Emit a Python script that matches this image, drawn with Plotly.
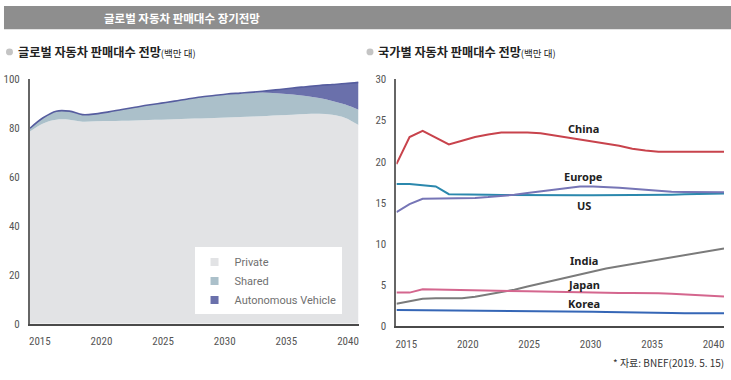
import plotly.graph_objects as go

# ---------------- data ----------------
YEARS = list(range(2015, 2041))

# global sales (million units), stacked
PRIVATE = [78.7, 82.0, 83.5, 83.5, 82.7, 82.9, 83.0, 83.1, 83.2, 83.4, 83.5, 83.7, 83.9,
           84.0, 84.2, 84.4, 84.6, 84.8, 85.0, 85.3, 85.5, 85.8, 85.9, 85.5, 84.2, 81.3]
SHARED = [1.3, 2.3, 3.5, 3.5, 2.9, 3.0, 3.7, 4.6, 5.4, 6.1, 6.8, 7.4, 8.1,
          8.8, 9.2, 9.6, 9.8, 9.8, 9.5, 8.9, 8.3, 7.4, 6.5, 5.7, 5.5, 6.3]
AUTONOMOUS = [0, 0, 0, 0, 0, 0, 0, 0, 0, 0, 0, 0, 0,
              0, 0, 0, 0, 0.2, 0.8, 1.7, 2.7, 3.8, 5.1, 6.7, 8.6, 11.2]

# sales by country (million units)
CHINA = [19.7, 23.0, 23.75, 22.9, 22.1, 22.55, 23.0, 23.3, 23.55, 23.55, 23.55, 23.45, 23.2,
         22.95, 22.7, 22.47, 22.25, 21.95, 21.58, 21.35, 21.22, 21.2, 21.2, 21.2, 21.2, 21.2]
US = [17.3, 17.3, 17.15, 17.0, 16.05, 16.0, 16.0, 15.98, 15.97, 15.95, 15.95, 15.95, 15.94,
      15.94, 15.93, 15.93, 15.93, 15.93, 15.94, 15.95, 15.97, 16.0, 16.04, 16.08, 16.12, 16.15]
EUROPE = [13.88, 14.85, 15.5, 15.52, 15.52, 15.52, 15.6, 15.7, 15.8, 15.98, 16.2, 16.4, 16.6,
          16.82, 17.0, 17.0, 16.95, 16.85, 16.72, 16.6, 16.45, 16.36, 16.33, 16.32, 16.3, 16.3]
INDIA = [2.74, 3.0, 3.35, 3.4, 3.4, 3.4, 3.6, 3.88, 4.15, 4.45, 4.84, 5.22, 5.6,
         5.97, 6.35, 6.73, 7.03, 7.3, 7.57, 7.84, 8.11, 8.38, 8.65, 8.92, 9.19, 9.46]
JAPAN = [4.1, 4.1, 4.5, 4.48, 4.46, 4.44, 4.42, 4.38, 4.34, 4.3, 4.26, 4.22, 4.18,
         4.14, 4.1, 4.08, 4.07, 4.06, 4.05, 4.05, 4.02, 3.95, 3.87, 3.79, 3.71, 3.64]
KOREA = [2.0, 1.99, 1.97, 1.95, 1.93, 1.92, 1.91, 1.9, 1.89, 1.88, 1.87, 1.86, 1.85,
         1.83, 1.81, 1.78, 1.74, 1.7, 1.66, 1.63, 1.62, 1.61, 1.6, 1.6, 1.6, 1.6]

X_TICK_LABELS = ["2015", "2020", "2025", "2030", "2035", "2040"]
LEFT_Y_TICKS = [0, 20, 40, 60, 80, 100]
RIGHT_Y_TICKS = [0, 5, 10, 15, 20, 25, 30]

# ---------------- styling ----------------
W, H = 731, 380
TICK_FONT = dict(family="Liberation Sans Narrow, Roboto Condensed, Roboto, sans-serif", size=11, color="#555555")
KR = "Noto Sans CJK KR, Noto Sans, sans-serif"

def px_x(p):
    return p / W

def px_y(p):
    return 1 - p / H

# label positions along the axis (labels are set slightly inside the axis ends)
lab_first, lab_last = 2015.75, 2039.2
tick_pos = [lab_first + i * (lab_last - lab_first) / (len(X_TICK_LABELS) - 1)
            for i in range(len(X_TICK_LABELS))]

fig = go.Figure()

area_styles = [
    ("Private", PRIVATE, "#e2e3e5", dict(width=0)),
    ("Shared", SHARED, "#abc0ca", dict(width=0)),
    ("Autonomous Vehicle", AUTONOMOUS, "#6a70ab", dict(width=1.6, color="#565d9f")),
]
for name, vals, col, line in area_styles:
    fig.add_trace(go.Scatter(
        x=YEARS, y=vals, name=name, mode="lines", stackgroup="one",
        fillcolor=col, line=dict(shape="spline", smoothing=1.0, **line),
        xaxis="x", yaxis="y", showlegend=False, legendgroup=name, hoverinfo="skip"))
# legend entries with small square swatches
for name, vals, col, line in area_styles:
    fig.add_trace(go.Scatter(
        x=[None], y=[None], name=name, mode="markers", legendgroup=name,
        marker=dict(symbol="square", size=8, color=col), xaxis="x", yaxis="y",
        showlegend=True, hoverinfo="skip"))

line_styles = [
    ("China", CHINA, "#c8434c"),
    ("US", US, "#2b88ad"),
    ("Europe", EUROPE, "#7675b6"),
    ("India", INDIA, "#7b7b7b"),
    ("Japan", JAPAN, "#d4668e"),
    ("Korea", KOREA, "#3566b6"),
]
for name, vals, col in line_styles:
    fig.add_trace(go.Scatter(
        x=YEARS, y=vals, name=name, mode="lines",
        line=dict(color=col, width=2), xaxis="x2", yaxis="y2",
        showlegend=False, hoverinfo="skip"))

axis_common = dict(showgrid=False, zeroline=False, ticks="", tickfont=TICK_FONT)

fig.update_layout(
    width=W, height=H, margin=dict(l=0, r=0, t=0, b=0),
    paper_bgcolor="white", plot_bgcolor="rgba(0,0,0,0)",
    xaxis=dict(domain=[px_x(29), px_x(358)], range=[2015, 2040], tickvals=tick_pos,
               ticktext=X_TICK_LABELS, showline=True, linecolor="#4a4a4a", linewidth=2,
               anchor="y", ticklabelstandoff=6, **axis_common),
    yaxis=dict(domain=[px_y(329), px_y(76)], range=[0, 100], tickvals=LEFT_Y_TICKS,
               showline=True, linecolor="#666666", linewidth=2, anchor="x",
               ticklabelstandoff=6, **axis_common),
    xaxis2=dict(domain=[px_x(396), px_x(724)], range=[2015, 2040], tickvals=tick_pos,
                ticktext=X_TICK_LABELS, showline=True, linecolor="#4a4a4a", linewidth=2,
                anchor="y2", ticklabelstandoff=6, **axis_common),
    yaxis2=dict(domain=[px_y(331.7), px_y(76)], range=[0, 30], tickvals=RIGHT_Y_TICKS,
                showline=True, linecolor="#666666", linewidth=2, anchor="x2",
                ticklabelstandoff=6, **axis_common),
    legend=dict(x=px_x(341), xanchor="right", y=px_y(250), yanchor="top",
                bgcolor="white", borderwidth=0, traceorder="normal",
                font=dict(family="Roboto, sans-serif", size=11, color="#707070"),
                itemwidth=30, tracegroupgap=0),
    showlegend=True,
)

shapes = [
    dict(type="rect", xref="paper", yref="paper", x0=px_x(3), x1=1, y0=px_y(24), y1=1,
         fillcolor="#8e8e8e", line=dict(width=0), layer="below"),
    dict(type="circle", xref="paper", yref="paper", x0=px_x(5), x1=px_x(12),
         y0=px_y(51), y1=px_y(44), fillcolor="#c4c4c4", line=dict(width=0)),
    dict(type="circle", xref="paper", yref="paper", x0=px_x(366), x1=px_x(373),
         y0=px_y(51), y1=px_y(44), fillcolor="#c4c4c4", line=dict(width=0)),
]
fig.update_layout(shapes=shapes)

annotations = [
    dict(text="<b>글로벌 자동차 판매대수 장기전망</b>", xref="paper", yref="paper",
         x=px_x(181), y=px_y(12.5), xanchor="center", yanchor="middle", showarrow=False,
         font=dict(family=KR, size=11.5, color="white")),
    dict(text="<b>글로벌 자동차 판매대수 전망</b><span style='font-size:9.5px'>(백만 대)</span>",
         xref="paper", yref="paper", x=px_x(15), y=px_y(47.5), xanchor="left",
         yanchor="middle", showarrow=False, font=dict(family=KR, size=12.2, color="#222222")),
    dict(text="<b>국가별 자동차 판매대수 전망</b><span style='font-size:9.5px'>(백만 대)</span>",
         xref="paper", yref="paper", x=px_x(376), y=px_y(47.5), xanchor="left",
         yanchor="middle", showarrow=False, font=dict(family=KR, size=12.2, color="#222222")),
    dict(text="* 자료: BNEF(2019. 5. 15)", xref="paper", yref="paper", x=px_x(726),
         y=px_y(369), xanchor="right", yanchor="middle", showarrow=False,
         font=dict(family=KR, size=10, color="#333333")),
]
country_labels = [("China", 24.0), ("Europe", 18.2), ("US", 14.65),
                  ("India", 7.95), ("Japan", 5.1), ("Korea", 2.75)]
for name, yv in country_labels:
    annotations.append(dict(text=f"<b>{name}</b>", xref="x2", yref="y2", x=2029.3, y=yv,
                            xanchor="center", yanchor="middle", showarrow=False,
                            font=dict(family="Noto Sans, sans-serif", size=11, color="#222222")))
fig.update_layout(annotations=annotations)

fig.write_html("out.html", config={"displayModeBar": False},
               post_script="document.body.style.margin='0';document.body.style.padding='0';")
